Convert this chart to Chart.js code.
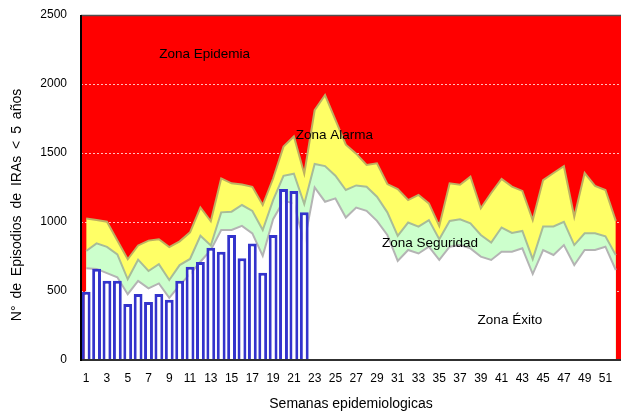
<!DOCTYPE html>
<html>
<head>
<meta charset="utf-8">
<script src="https://cdn.jsdelivr.net/npm/chart.js@4.4.0/dist/chart.umd.min.js"></script>
<style>
html, body { margin: 0; padding: 0; background: #fff; }
canvas { display: block; }
</style>
</head>
<body>
<canvas id="canal" width="621" height="414"></canvas>
<script>
// semanas epidemiologicas
const semanas = ['1','2','3','4','5','6','7','8','9','10','11','12','13','14','15','16','17','18','19','20',
    '21','22','23','24','25','26','27','28','29','30','31','32','33','34','35','36','37','38','39','40',
    '41','42','43','44','45','46','47','48','49','50','51','52'];

// casos observados (barras)
const casos = [495, 662, 575, 575, 406, 478, 420, 478, 437, 575, 676, 710, 814, 785, 906, 737, 845, 633, 906, 1239, 1225, 1070];

// limites del canal endemico
const limiteAlarma = [1026, 1015, 1002, 866, 730, 830, 865, 875, 818, 860,
    925, 1105, 1005, 1316, 1280, 1272, 1255, 1123, 1315, 1546,
    1620, 1350, 1810, 1920, 1740, 1560, 1495, 1413, 1425, 1275,
    1238, 1159, 1196, 1135, 972, 1280, 1270, 1328, 1100, 1210,
    1312, 1256, 1225, 1014, 1304, 1355, 1404, 1038, 1355, 1262,
    1232, 1008];
const limiteSeguridad = [790, 845, 820, 765, 585, 727, 645, 695, 580, 688,
    732, 900, 830, 1070, 1075, 1123, 1080, 942, 1159, 1335,
    1350, 1130, 1420, 1405, 1335, 1232, 1265, 1256, 1183, 1070,
    900, 996, 966, 1014, 875, 1008, 1020, 990, 906, 851,
    960, 921, 935, 731, 968, 968, 1002, 833, 918, 918,
    896, 760];
const limiteExito = [664, 660, 630, 600, 477, 573, 519, 555, 450, 543,
    622, 712, 797, 942, 942, 972, 918, 755, 1020, 1153,
    1135, 850, 1250, 1147, 1171, 1032, 1105, 1081, 1008, 906,
    718, 797, 772, 821, 725, 821, 833, 809, 749, 725,
    785, 785, 809, 623, 797, 761, 833, 688, 797, 797,
    821, 652];

const ticksY = [0, 500, 1000, 1500, 2000, 2500];

const fuente = 'Arial, "Liberation Sans", sans-serif';

// fondo rojo, rejilla, bordes y rotulos de zonas
const canalPlugin = {
    id: 'canalPlugin',
    beforeDatasetsDraw(chart) {
        const {ctx, chartArea: a, scales: {y}} = chart;
        ctx.save();
        ctx.fillStyle = '#FF0000';
        ctx.fillRect(a.left, a.top, a.right - a.left, a.bottom - a.top);
        ctx.strokeStyle = 'rgba(255,255,255,0.75)';
        ctx.lineWidth = 1;
        ctx.setLineDash([2, 2]);
        ticksY.slice(1, -1).forEach(v => {
            const py = Math.round(y.getPixelForValue(v)) + 0.5;
            ctx.beginPath();
            ctx.moveTo(a.left, py);
            ctx.lineTo(a.right, py);
            ctx.stroke();
        });
        ctx.restore();
    },
    afterDatasetsDraw(chart) {
        const {ctx, chartArea: a, scales: {x, y}} = chart;
        ctx.save();
        // bordes
        ctx.strokeStyle = '#505050';
        ctx.lineWidth = 1.5;
        ctx.beginPath();
        ctx.moveTo(a.left, a.top + 0.5);
        ctx.lineTo(a.right, a.top + 0.5);
        ctx.stroke();
        ctx.strokeStyle = '#303030';
        ctx.lineWidth = 2;
        ctx.beginPath();
        ctx.moveTo(a.left, a.bottom);
        ctx.lineTo(a.right, a.bottom);
        ctx.stroke();
        ctx.strokeStyle = '#000';
        ctx.beginPath();
        ctx.moveTo(a.left, a.top);
        ctx.lineTo(a.left, a.bottom + 1);
        ctx.stroke();

        // rotulos de zonas
        const zonas = [
            ['Zona Epidemia', 11.4, 2217],
            ['Zona Alarma', 23.9, 1630],
            ['Zona Seguridad', 33.1, 848],
            ['Zona Éxito', 40.8, 290]
        ];
        ctx.fillStyle = '#000';
        ctx.font = '13.5px ' + fuente;
        ctx.textAlign = 'center';
        ctx.textBaseline = 'middle';
        zonas.forEach(z => {
            ctx.fillText(z[0], x.getPixelForValue(z[1]), y.getPixelForValue(z[2]));
        });
        ctx.restore();
    },
    afterDraw(chart) {
        const {ctx, chartArea: a} = chart;
        ctx.save();
        ctx.fillStyle = '#000';
        ctx.font = '14px ' + fuente;
        ctx.textAlign = 'center';
        ctx.textBaseline = 'middle';
        ctx.fillText('Semanas epidemiologicas', (a.left + a.right) / 2, 404);
        ctx.translate(17, 205);
        ctx.rotate(-Math.PI / 2);
        if ('wordSpacing' in ctx) ctx.wordSpacing = '3px';
        ctx.fillText('N° de Episodios de IRAs < 5 años', 0, 0);
        ctx.restore();
    }
};

new Chart(document.getElementById('canal'), {
    type: 'bar',
    data: {
        labels: semanas,
        datasets: [
            {
                type: 'bar',
                label: 'Casos',
                data: casos,
                backgroundColor: '#FFFFFF',
                borderColor: '#3333CC',
                borderWidth: 3,
                barPercentage: 0.85,
                categoryPercentage: 1,
                order: 0
            },
            {
                type: 'line',
                label: 'Exito',
                data: limiteExito,
                backgroundColor: '#FFFFFF',
                borderColor: '#B4B4B4',
                borderWidth: 2,
                pointRadius: 0,
                fill: 'origin',
                order: 1
            },
            {
                type: 'line',
                label: 'Seguridad',
                data: limiteSeguridad,
                backgroundColor: '#CCFFCC',
                borderColor: '#A8BC98',
                borderWidth: 2,
                pointRadius: 0,
                fill: 'origin',
                order: 2
            },
            {
                type: 'line',
                label: 'Alarma',
                data: limiteAlarma,
                backgroundColor: '#FFFF66',
                borderColor: '#BEB060',
                borderWidth: 2,
                pointRadius: 0,
                fill: 'origin',
                order: 3
            }
        ]
    },
    options: {
        responsive: false,
        animation: false,
        layout: { autoPadding: false, padding: { top: 15, right: 0, left: 0, bottom: 0 } },
        plugins: {
            legend: { display: false },
            tooltip: { enabled: false }
        },
        scales: {
            x: {
                offset: true,
                grid: { display: false, drawTicks: true, tickLength: 11 },
                border: { display: false },
                ticks: {
                    autoSkip: false,
                    maxRotation: 0,
                    padding: 0,
                    color: '#000',
                    font: { family: fuente, size: 12 },
                    callback: function (val, i) { return i % 2 === 0 ? this.getLabelForValue(val) : ''; }
                },
                afterFit: s => { s.height = 54; }
            },
            y: {
                min: 0,
                max: 2500,
                grid: { display: false, drawTicks: true, tickLength: 14 },
                border: { display: false },
                ticks: {
                    stepSize: 500,
                    padding: 0,
                    color: '#000',
                    font: { family: fuente, size: 12 },
                    callback: v => String(v)
                },
                afterFit: s => { s.width = 81; }
            }
        }
    },
    plugins: [canalPlugin]
});
</script>
</body>
</html>
